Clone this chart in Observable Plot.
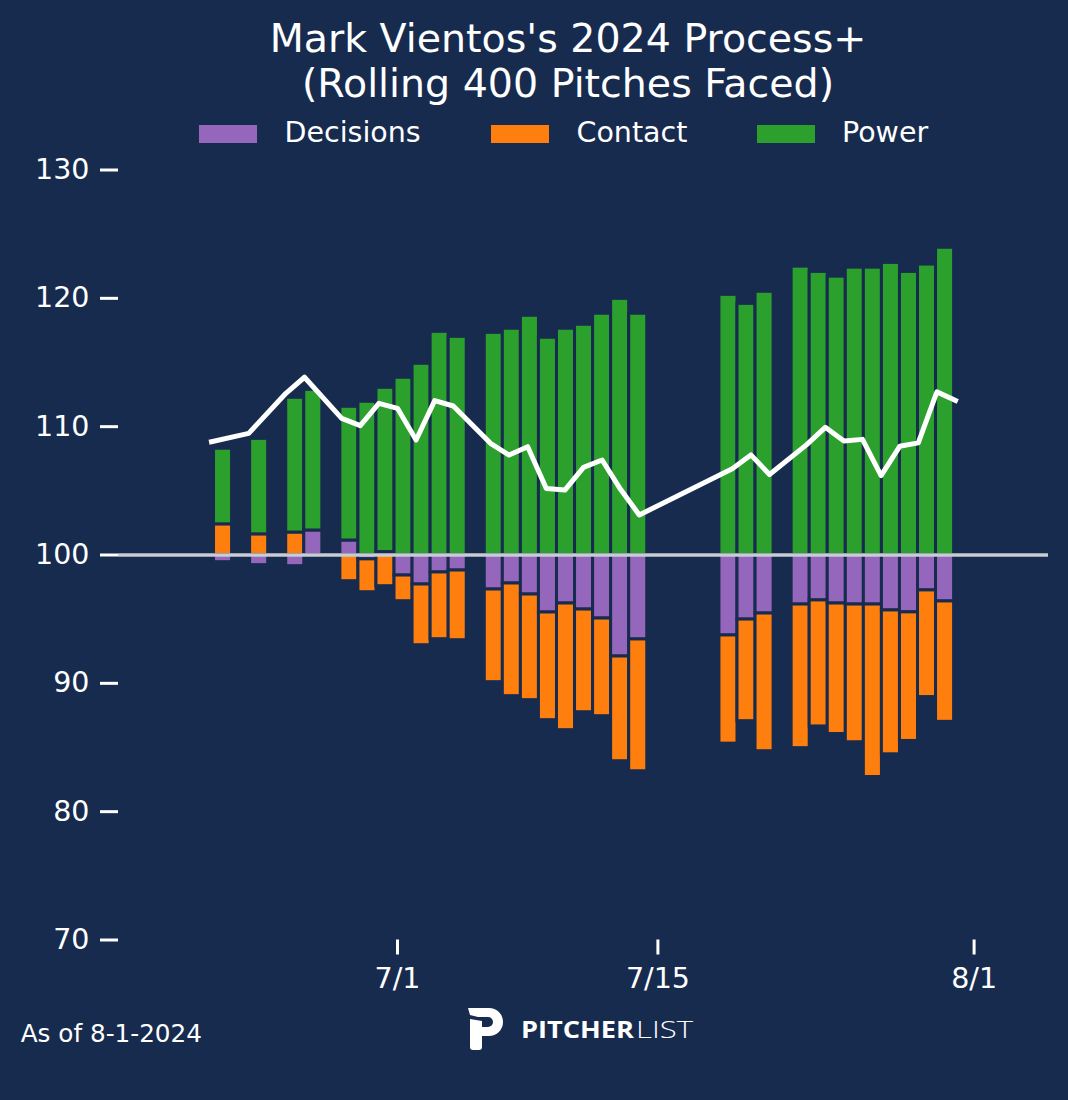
<!DOCTYPE html>
<html><head><meta charset="utf-8">
<script src="https://cdn.jsdelivr.net/npm/d3@7"></script>
<script src="https://cdn.jsdelivr.net/npm/@observablehq/plot@0.6"></script>
<style>
html,body{margin:0;padding:0;background:#172B4F;}
#wrap{position:relative;width:1068px;height:1100px;background:#172B4F;overflow:hidden;font-family:"DejaVu Sans",sans-serif;color:#fff;}
#title{position:absolute;left:168px;width:800px;top:15.8px;text-align:center;font-size:39.5px;line-height:45px;white-space:nowrap;}
.sw{position:absolute;top:125px;width:58px;height:18px;}
.lab{position:absolute;top:118.9px;font-size:28.5px;line-height:1;white-space:nowrap;}
.layer{position:absolute;left:0;top:150px;width:1068px;height:850px;}
#footer{position:absolute;left:20.7px;top:1021.8px;font-size:24.7px;line-height:1;white-space:nowrap;}
#logo{position:absolute;left:460px;top:1000px;}
</style></head><body>
<div id="wrap">
  <div id="title">Mark Vientos's 2024 Process+<br>(Rolling 400 Pitches Faced)</div>
  <div id="legend"></div>
  <div id="barsLayer" class="layer"></div>
  <div id="mainLayer" class="layer"></div>
  <div id="footer">As of 8-1-2024</div>
  <svg id="logo" width="240" height="60" viewBox="0 0 240 60">
    <path fill="#fff" d="M8,8 H29 A14,14 0 0 1 29,36 H22 V27 H28 A5,5 0 0 0 28,17 H18 L10,15 Z"/>
    <path fill="#fff" d="M10,19 L22,21 V47 A3,3 0 0 1 19,50 H13 A3,3 0 0 1 10,47 Z"/>
    <text x="61" y="38.3" fill="#fff" font-family="'Open Sans', sans-serif" font-weight="700" font-size="23" textLength="113" lengthAdjust="spacingAndGlyphs">PITCHER</text>
    <text x="176" y="38.3" fill="#fff" font-family="'Open Sans', sans-serif" font-weight="300" font-size="23" textLength="57" lengthAdjust="spacingAndGlyphs">LIST</text>
  </svg>
</div>
<script>
// ---- data ----
const dates = ["2024-06-21","2024-06-23","2024-06-25","2024-06-26","2024-06-28","2024-06-29","2024-06-30",
  "2024-07-01","2024-07-02","2024-07-03","2024-07-04","2024-07-06","2024-07-07","2024-07-08","2024-07-09",
  "2024-07-10","2024-07-11","2024-07-12","2024-07-13","2024-07-14","2024-07-19","2024-07-20","2024-07-21",
  "2024-07-23","2024-07-24","2024-07-25","2024-07-26","2024-07-27","2024-07-28","2024-07-29","2024-07-30","2024-07-31"];
const decisions = [-0.56,-0.79,-0.87,1.91,1.13,-0.34,0.23,-1.6,-2.3,-1.36,-1.21,-2.69,-2.22,-3.08,-4.48,
  -3.78,-4.25,-4.95,-7.91,-6.58,-6.27,-5.03,-4.56,-3.86,-3.54,-3.78,-3.86,-3.86,-4.32,-4.47,-2.76,-3.62];
const contact = [2.39,1.61,1.75,0,-2.04,-2.56,-2.43,-2.0,-4.73,-5.2,-5.43,-7.22,-8.78,-8.23,-8.39,
  -9.87,-8.0,-7.61,-8.16,-10.27,-8.43,-7.92,-10.73,-11.19,-9.82,-10.17,-10.73,-13.44,-11.21,-10.02,-8.31,-9.38];
const power = [5.89,7.44,10.5,10.96,10.42,11.94,12.8,13.81,14.9,17.39,17.0,17.31,17.63,18.64,16.93,
  17.63,17.94,18.8,19.96,18.8,20.27,19.57,20.51,22.47,22.06,21.69,22.39,22.39,22.76,22.06,22.63,23.94];
const processPlus = [108.83,109.48,112.6,113.85,110.65,110.08,111.82,111.43,108.96,112.03,111.61,108.7,107.79,108.44,105.19,
  105.06,106.83,107.4,105.1,103.12,106.72,107.8,106.27,108.6,109.95,108.88,109.01,106.19,108.47,108.74,112.71,112.04];
const components = ["Decisions","Contact","Power"];
const colors = ["#9467bd","#ff7f0e","#2ca02c"];
const yTicks = [70,80,90,100,110,120,130];
const xTickLabels = ["2024-07-01","2024-07-15","2024-08-01"];
const baseline = 100;

// ---- style ----
const bg = "#172B4F";
const W = 1068, H = 850, ML = 118, MR = 20, MT = 19.5, MB = 60.5;
const lineDomain = [new Date("2024-06-16"), new Date("2024-08-05")];
const barDomain = [new Date(Date.UTC(2024,5,15,5,0)), new Date(Date.UTC(2024,7,5,17,30))];

// legend
const legend = document.getElementById("legend");
const swX = [199,491,757], labX = [284.5,576.5,842];
components.forEach((c,i)=>{
  const s=document.createElement("div"); s.className="sw"; s.style.left=swX[i]+"px"; s.style.background=colors[i]; legend.appendChild(s);
  const l=document.createElement("div"); l.className="lab"; l.style.left=labX[i]+"px"; l.textContent=c; legend.appendChild(l);
});

// stacked rows (diverging from baseline)
const series = [decisions, contact, power];
const barRows = [];
dates.forEach((ds,i)=>{
  const d = new Date(ds);
  let pos = baseline, neg = baseline;
  components.forEach((c,k)=>{
    const v = series[k][i];
    let y1, y2;
    if (v >= 0) { y1 = pos; y2 = pos + v; pos = y2; } else { y1 = neg; y2 = neg + v; neg = y2; }
    barRows.push({date: d, component: c, y1, y2});
  });
});
const lineRows = dates.map((ds,i)=>({date: new Date(ds), value: processPlus[i]}));
const halfDay = 12*3600*1000;

const bars = Plot.plot({
  width: W, height: H, marginLeft: ML, marginRight: MR, marginTop: MT, marginBottom: MB,
  style: {background: "transparent"},
  x: {type: "utc", domain: barDomain, axis: null},
  y: {domain: [70,130], axis: null},
  color: {domain: components, range: colors},
  marks: [
    Plot.rect(barRows, {x1: d => new Date(+d.date - halfDay), x2: d => new Date(+d.date + halfDay),
      y1: "y1", y2: "y2", fill: "component", stroke: bg, strokeWidth: 3})
  ]
});
document.getElementById("barsLayer").appendChild(bars);

const main = Plot.plot({
  width: W, height: H, marginLeft: ML, marginRight: MR, marginTop: MT, marginBottom: MB,
  style: {background: "transparent", color: "white", fontFamily: "DejaVu Sans", fontSize: "28.5px", overflow: "visible"},
  x: {type: "utc", domain: lineDomain},
  y: {domain: [70,130]},
  marks: [
    Plot.axisY({ticks: yTicks, tickSize: 18, tickPadding: 11, stroke: "white", strokeWidth: 3, fill: "white", fontSize: 28.5, label: null}),
    Plot.axisX({ticks: xTickLabels.map(s=>new Date(s)), tickSize: 15, tickPadding: 13, stroke: "white", strokeWidth: 3, fill: "white", fontSize: 28.5, label: null, tickFormat: d3.utcFormat("%-m/%-d")}),
    Plot.ruleY([baseline], {stroke: "#c8ccd3", strokeWidth: 3.5}),
    Plot.line(lineRows, {x: "date", y: "value", stroke: "white", strokeWidth: 5, strokeLinejoin: "round", strokeLinecap: "square"})
  ]
});
document.getElementById("mainLayer").appendChild(main);
</script>
</body></html>
